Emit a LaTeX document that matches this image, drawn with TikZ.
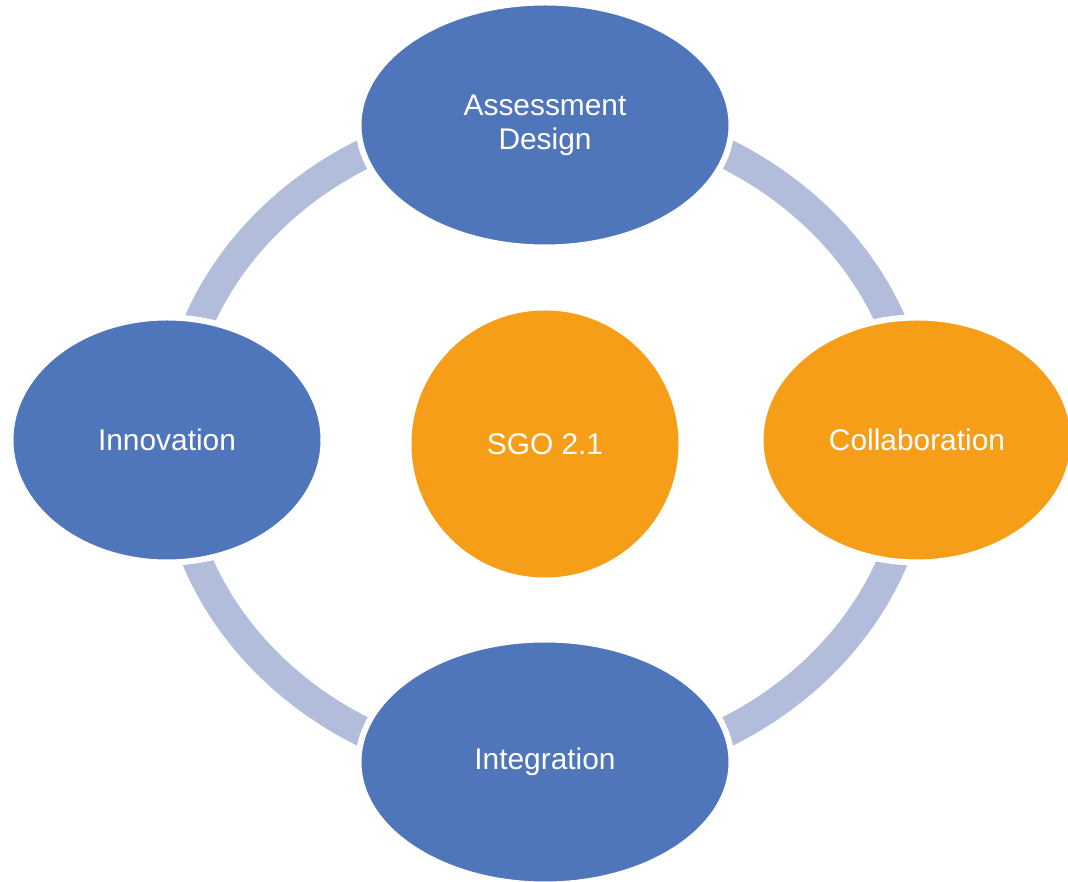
\documentclass[tikz,border=0pt]{standalone}
\usepackage{fontspec}
\setmainfont{Liberation Sans}
\usepackage{tikz}
\usetikzlibrary{backgrounds}
\usetikzlibrary{shapes.geometric,positioning}

\begin{document}
\begin{tikzpicture}
%
\useasboundingbox (0,0) rectangle (21.36cm,17.64cm);
%
\definecolor{cblue}{rgb}{0.31,0.46,0.73}
\definecolor{corange}{rgb}{0.97,0.62,0.10}
\definecolor{cring}{rgb}{0.70,0.74,0.86}
%
\tikzset{
  stage/.style={shape=ellipse,draw=white,line width=0.12cm,text=white,
    minimum height=4.9cm,font=\fontsize{17}{19.5}\selectfont,align=center,inner sep=0pt},
  wide/.style={stage,minimum width=7.46cm},
  narrow/.style={stage,minimum width=6.26cm},
  hub/.style={shape=circle,fill=corange,text=white,minimum size=5.34cm,
    font=\fontsize{17}{19.5}\selectfont,inner sep=0pt},
  ringline/.style={draw=cring,line width=0.6cm}
}
%
\node[hub] (sgo) at (10.9cm,8.76cm) {SGO 2.1};
\node[wide,fill=cblue] (design) at (10.9cm,15.14cm) {Assessment\\Design};
\node[narrow,fill=corange] (collab) at (18.34cm,8.84cm) {Collaboration};
\node[wide,fill=cblue] (integr) at (10.9cm,2.4cm) {Integration};
\node[narrow,fill=cblue] (innov) at (3.34cm,8.84cm) {Innovation};
%
\begin{scope}[on background layer]
\coordinate (mid) at (10.9cm,8.78cm);
\draw[ringline] (mid) ellipse [x radius=7.44cm, y radius=6.62cm];
\end{scope}
%
\end{tikzpicture}
\end{document}
